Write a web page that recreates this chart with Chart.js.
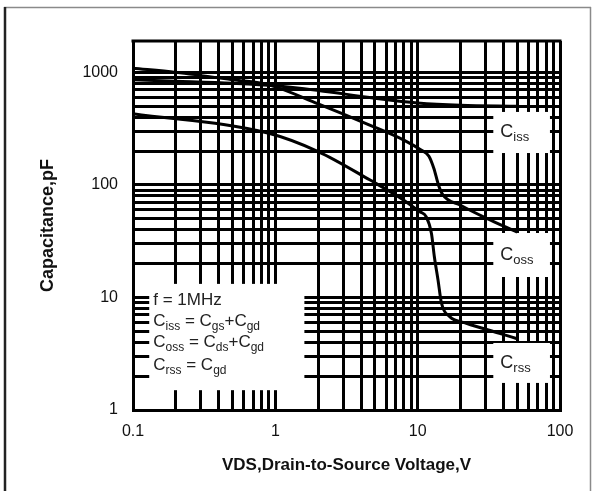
<!DOCTYPE html>
<html>
<head>
<meta charset="utf-8">
<title>Capacitance vs VDS</title>
<script src="https://cdn.jsdelivr.net/npm/chart.js@4.4.1/dist/chart.umd.min.js"></script>
<style>
  html, body { margin: 0; padding: 0; background: #fff; }
  #wrap { position: relative; width: 594px; height: 491px; }
</style>
</head>
<body>
<div id="wrap"><canvas id="capChart" width="594" height="491"></canvas></div>
<script>
// Values: VDS (V) against capacitance (pF)
const cissVds = [0.1, 0.2, 0.5, 1, 2, 5, 10, 20, 50];
const cissPf  = [860, 835, 800, 760, 690, 590, 535, 510, 500];

const cossVds = [0.1, 0.2, 0.5, 0.9, 2, 4.6, 8, 10.5, 12, 13, 14, 15, 20, 30, 50];
const cossPf  = [1090, 1000, 860, 775, 525, 340, 250, 205, 180, 140, 100, 82, 66, 51, 38];

const crssVds = [0.1, 0.9, 2, 4.6, 7.9, 10.3, 11.5, 12.5, 13.1, 13.9, 14.7, 16.8, 22, 37.6, 50];
const crssPf  = [430, 288, 198, 111, 74, 58, 52, 37, 23, 14.3, 8.9, 6.75, 5.9, 4.8, 4.3];

// Every gridline, and the ones that carry a label
const xTicks = [0.1, 0.2, 0.3, 0.4, 0.5, 0.6, 0.7, 0.8, 0.9,
                1, 2, 3, 4, 5, 6, 7, 8, 9,
                10, 20, 30, 40, 50, 60, 70, 80, 90, 100];
const yTicks = [1, 2, 3, 4, 5, 6, 7, 8, 9,
                10, 20, 30, 40, 50, 60, 70, 80, 90,
                100, 200, 300, 400, 500, 600, 700, 800, 900, 1000];
const xLabels = [0.1, 1, 10, 100];
const yLabels = [1, 10, 100, 1000];

// White boxes that blank out the grid behind the notes (data units: [x0, x1, y0, y1])
const noteBox = [0.13, 1.6, 1.5, 13.2];
const cissBox = [34, 85, 192, 445];
const cossBox = [34, 85, 15.2, 37.4];
const crssBox = [34, 85, 1.74, 3.94];

const FONT = '"Liberation Sans", Arial, Helvetica, sans-serif';

function toPoints(xs, ys) {
    return xs.map((v, i) => ({ x: v, y: ys[i] }));
}

function boxPx(chart, b) {
    const sx = chart.scales.x, sy = chart.scales.y;
    const l = sx.getPixelForValue(b[0]), r = sx.getPixelForValue(b[1]);
    const bt = sy.getPixelForValue(b[2]), t = sy.getPixelForValue(b[3]);
    return { left: l, right: r, top: t, bottom: bt };
}

// Draw text with subscript parts: [[text, isSub], ...]
function drawRich(ctx, x, baseline, parts, size, subSize) {
    parts.forEach(([txt, sub]) => {
        ctx.font = (sub ? subSize : size) + 'px ' + FONT;
        ctx.fillText(txt, x, sub ? baseline + 4 : baseline);
        x += ctx.measureText(txt).width;
    });
}

const overlayPlugin = {
    id: 'overlay',
    beforeDraw(chart) {
        const ctx = chart.ctx;
        ctx.save();
        ctx.strokeStyle = '#8a8a8a';
        ctx.lineWidth = 1.5;
        ctx.beginPath();
        ctx.moveTo(4, 7.5); ctx.lineTo(591, 7.5);
        ctx.moveTo(590.5, 7); ctx.lineTo(590.5, 491);
        ctx.stroke();
        ctx.strokeStyle = '#222';
        ctx.lineWidth = 2.5;
        ctx.beginPath();
        ctx.moveTo(5, 7); ctx.lineTo(5, 491);
        ctx.stroke();
        ctx.restore();
    },
    beforeDatasetsDraw(chart) {
        const ctx = chart.ctx;
        const a = chart.chartArea;
        ctx.save();
        ctx.fillStyle = '#fff';
        [noteBox, cissBox, cossBox, crssBox].forEach(b => {
            const p = boxPx(chart, b);
            ctx.fillRect(p.left, p.top, p.right - p.left, p.bottom - p.top);
        });
        // top edge of the plot frame
        ctx.strokeStyle = '#000';
        ctx.lineWidth = 3;
        ctx.beginPath();
        ctx.moveTo(a.left - 1.5, a.top);
        ctx.lineTo(a.right + 1.5, a.top);
        ctx.stroke();
        ctx.restore();
    },
    afterDatasetsDraw(chart) {
        const ctx = chart.ctx;
        ctx.save();
        ctx.fillStyle = '#222';
        ctx.textBaseline = 'alphabetic';
        ctx.textAlign = 'left';

        // curve names
        [[cissBox, 'iss'], [cossBox, 'oss'], [crssBox, 'rss']].forEach(([b, sub]) => {
            const p = boxPx(chart, b);
            const mid = (p.top + p.bottom) / 2;
            drawRich(ctx, p.left + 7, mid + 5, [['C', false], [sub, true]], 18, 13);
        });

        // test conditions note
        const n = boxPx(chart, noteBox);
        const x0 = n.left + 4;
        const lines = [
            [['f = 1MHz', false]],
            [['C', false], ['iss', true], [' = C', false], ['gs', true], ['+C', false], ['gd', true]],
            [['C', false], ['oss', true], [' = C', false], ['ds', true], ['+C', false], ['gd', true]],
            [['C', false], ['rss', true], [' = C', false], ['gd', true]]
        ];
        const baselines = [305, 326, 347, 370];
        lines.forEach((parts, i) => drawRich(ctx, x0, baselines[i], parts, 17, 12));
        ctx.restore();
    }
};

function lineSet(label, xs, ys) {
    return {
        label: label,
        data: toPoints(xs, ys),
        borderColor: '#000',
        borderWidth: 3,
        pointRadius: 0,
        fill: false,
        cubicInterpolationMode: 'monotone'
    };
}

const gridStyle = { color: '#000', lineWidth: 3, drawTicks: false };
const borderStyle = { display: true, color: '#000', width: 3 };

new Chart(document.getElementById('capChart'), {
    type: 'line',
    data: {
        datasets: [
            lineSet('Ciss', cissVds, cissPf),
            lineSet('Coss', cossVds, cossPf),
            lineSet('Crss', crssVds, crssPf)
        ]
    },
    options: {
        responsive: false,
        animation: false,
        devicePixelRatio: 1,
        layout: { padding: { top: 41, right: 34, left: 0, bottom: 0 } },
        plugins: {
            legend: { display: false },
            tooltip: { enabled: false }
        },
        scales: {
            x: {
                type: 'logarithmic',
                min: 0.1,
                max: 100,
                afterBuildTicks: s => { s.ticks = xTicks.map(v => ({ value: v })); },
                afterFit: s => { s.height = 81; },
                grid: gridStyle,
                border: borderStyle,
                ticks: {
                    autoSkip: false,
                    maxRotation: 0,
                    padding: 12,
                    color: '#111',
                    font: { family: FONT, size: 16 },
                    callback: v => xLabels.includes(v) ? String(v) : ''
                },
                title: {
                    display: true,
                    text: 'VDS,Drain-to-Source Voltage,V',
                    color: '#111',
                    font: { family: FONT, size: 17, weight: 'bold' },
                    padding: { top: 0, bottom: 15 }
                }
            },
            y: {
                type: 'logarithmic',
                min: 1,
                max: 1900,
                afterBuildTicks: s => { s.ticks = yTicks.map(v => ({ value: v })); },
                afterFit: s => { s.width = 133; },
                grid: gridStyle,
                border: borderStyle,
                ticks: {
                    autoSkip: false,
                    padding: 15,
                    color: '#111',
                    font: { family: FONT, size: 16 },
                    callback: v => yLabels.includes(v) ? String(v) : ''
                },
                title: {
                    display: true,
                    text: 'Capacitance,pF',
                    color: '#111',
                    font: { family: FONT, size: 18, weight: 'bold' },
                    padding: { top: 37, bottom: 0 }
                }
            }
        }
    },
    plugins: [overlayPlugin]
});
</script>
</body>
</html>
